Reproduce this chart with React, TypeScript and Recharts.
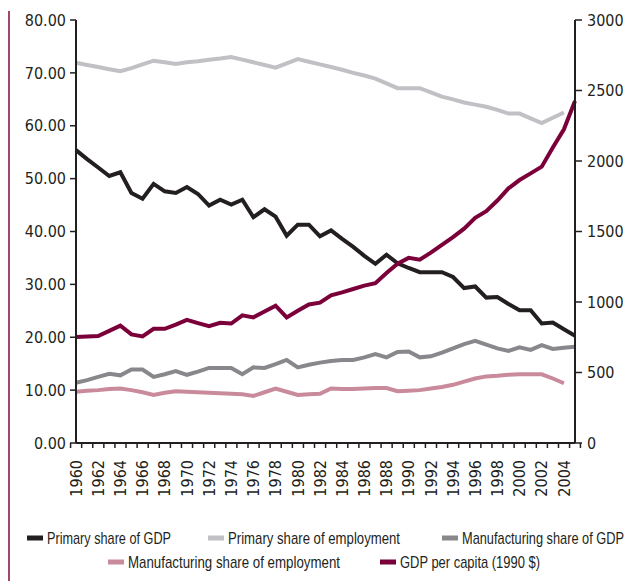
import { Line, LineChart, XAxis, YAxis } from 'recharts';

// Years on the category axis (1960 - 2005)
const years = [
    1960, 1961, 1962, 1963, 1964, 1965, 1966, 1967, 1968, 1969,
    1970, 1971, 1972, 1973, 1974, 1975, 1976, 1977, 1978, 1979,
    1980, 1981, 1982, 1983, 1984, 1985, 1986, 1987, 1988, 1989,
    1990, 1991, 1992, 1993, 1994, 1995, 1996, 1997, 1998, 1999,
    2000, 2001, 2002, 2003, 2004, 2005,
];

// Left axis series (%)
const primaryShareGdp = [
    55.4, 53.7, 52.1, 50.5, 51.2, 47.3, 46.2, 49.0, 47.6, 47.3,
    48.4, 47.1, 44.9, 46.0, 45.1, 46.0, 42.7, 44.2, 42.8, 39.2,
    41.3, 41.3, 39.1, 40.2, 38.6, 37.1, 35.4, 33.9, 35.6, 34.0,
    33.1, 32.3, 32.3, 32.3, 31.4, 29.3, 29.6, 27.5, 27.6, 26.3,
    25.1, 25.1, 22.6, 22.8, 21.5, 20.3,
];

const primaryShareEmployment = [
    71.9, 71.5, 71.1, 70.7, 70.3, 70.9, 71.6, 72.3, 72.0, 71.7,
    72.0, 72.2, 72.5, 72.7, 73.0, 72.5, 72.0, 71.5, 71.0, 71.8,
    72.6, 72.1, 71.6, 71.1, 70.6, 70.0, 69.5, 68.9, 68.0, 67.1,
    67.1, 67.1, 66.3, 65.5, 65.0, 64.4, 64.0, 63.6, 63.0, 62.3,
    62.3, 61.4, 60.5, 61.5, 62.5, null,
];

const manufacturingShareGdp = [
    11.4, 11.9, 12.5, 13.1, 12.8, 13.9, 13.9, 12.5, 13.0, 13.6,
    12.9, 13.5, 14.2, 14.2, 14.2, 13.0, 14.3, 14.2, 14.9, 15.7,
    14.3, 14.8, 15.2, 15.5, 15.7, 15.7, 16.2, 16.8, 16.2, 17.2,
    17.3, 16.2, 16.4, 17.1, 17.9, 18.7, 19.3, 18.6, 17.9, 17.4,
    18.1, 17.6, 18.5, 17.8, 18.0, 18.2,
];

const manufacturingShareEmployment = [
    9.7, 9.9, 10.0, 10.2, 10.3, 10.0, 9.6, 9.1, 9.5, 9.8,
    9.7, 9.6, 9.5, 9.4, 9.3, 9.2, 8.9, 9.6, 10.3, 9.7,
    9.1, 9.2, 9.3, 10.3, 10.2, 10.2, 10.3, 10.4, 10.4, 9.8,
    9.9, 10.0, 10.3, 10.6, 11.0, 11.6, 12.2, 12.6, 12.7, 12.9,
    13.0, 13.0, 13.0, 12.2, 11.3, null,
];

// Right axis series (1990 $)
const gdpPerCapita = [
    752, 755, 758, 795, 832, 770, 756, 810, 810, 840,
    873, 850, 828, 852, 847, 905, 891, 932, 974, 891,
    938, 982, 995, 1048, 1068, 1092, 1116, 1133, 1205, 1272,
    1313, 1300, 1350, 1405, 1460, 1520, 1597, 1644, 1720, 1806,
    1865, 1912, 1960, 2095, 2225, 2426,
];

const leftTicks = [0, 10, 20, 30, 40, 50, 60, 70, 80];
const rightTicks = [0, 500, 1000, 1500, 2000, 2500, 3000];

const series = [
    { key: 'primaryGdp', name: 'Primary share of GDP', color: '#231f20', axis: 'left' },
    { key: 'primaryEmp', name: 'Primary share of employment', color: '#c1c1c5', axis: 'left' },
    { key: 'manuGdp', name: 'Manufacturing share of GDP', color: '#88888c', axis: 'left' },
    { key: 'manuEmp', name: 'Manufacturing share of employment', color: '#c98b9c', axis: 'left' },
    { key: 'gdpPc', name: 'GDP per capita (1990 $)', color: '#7b0039', axis: 'right' },
];

const data = years.map((year, i) => ({
    year,
    primaryGdp: primaryShareGdp[i],
    primaryEmp: primaryShareEmployment[i],
    manuGdp: manufacturingShareGdp[i],
    manuEmp: manufacturingShareEmployment[i],
    gdpPc: gdpPerCapita[i],
}));

const WIDTH = 634;
const CHART_HEIGHT = 515;
const LEFT_W = 76;
const RIGHT_W = 59;
const X_H = 72;
const BAND = (WIDTH - LEFT_W - RIGHT_W) / years.length;

const INK = '#231f20';
const NUM_FONT = '"DejaVu Sans Condensed", "DejaVu Sans", sans-serif';
const LEGEND_FONT = '"Liberation Sans", Arial, sans-serif';

const XTick = (props: any) => {
    const { x, y, payload } = props;
    const year = payload.value as number;
    const isLast = year === years[years.length - 1];
    return (
        <g>
            <line x1={x - BAND / 2} x2={x - BAND / 2} y1={y} y2={y + 5} stroke={INK} strokeWidth={1.5} />
            {isLast && (
                <line x1={x + BAND / 2} x2={x + BAND / 2} y1={y} y2={y + 5} stroke={INK} strokeWidth={1.5} />
            )}
            {year % 2 === 0 && (
                <text
                    x={x}
                    y={y + 17}
                    dy="0.36em"
                    textAnchor="end"
                    transform={`rotate(-90, ${x}, ${y + 17})`}
                    fill={INK}
                    fontSize={16}
                    fontFamily={NUM_FONT}
                >
                    {year}
                </text>
            )}
        </g>
    );
};

// legend slots: swatch left edge, row centre line, text width (condensed look)
const legendSlots = [
    { x: 27, y: 538, w: 124 },
    { x: 208, y: 538, w: 172 },
    { x: 442, y: 538, w: 162 },
    { x: 108, y: 562, w: 212 },
    { x: 380, y: 562, w: 140 },
];

function ChartLegend() {
    return (
        <svg width={WIDTH} height={66} style={{ position: 'absolute', left: 0, top: 515 }}>
            {series.map((s, i) => {
                const slot = legendSlots[i];
                const cy = slot.y - 515;
                return (
                    <g key={s.key}>
                        <rect x={slot.x} y={cy - 2.5} width={16} height={5} fill={s.color} />
                        <text
                            x={slot.x + 20}
                            y={cy}
                            dy="0.36em"
                            textLength={slot.w}
                            lengthAdjust="spacingAndGlyphs"
                            fontFamily={LEGEND_FONT}
                            fontSize={17}
                            fill={INK}
                        >
                            {s.name}
                        </text>
                    </g>
                );
            })}
        </svg>
    );
}

export default function App() {
    return (
        <div style={{ position: 'absolute', left: 0, top: 0, width: WIDTH, height: 581, background: '#fff' }}>
            {/* decorative rule down the left edge */}
            <div style={{ position: 'absolute', left: 8, top: 11, width: 2, height: 570, background: '#a3466f' }} />
            <LineChart
                width={WIDTH}
                height={CHART_HEIGHT}
                data={data}
                margin={{ top: 20, right: 0, bottom: 0, left: 0 }}
            >
                <XAxis
                    dataKey="year"
                    interval={0}
                    height={X_H}
                    tickSize={0}
                    tickMargin={0}
                    tickLine={false}
                    axisLine={{ stroke: INK, strokeWidth: 2 }}
                    tick={(p: any) => <XTick {...p} />}
                />
                <YAxis
                    yAxisId="left"
                    width={LEFT_W}
                    domain={[0, 80]}
                    ticks={leftTicks}
                    tickFormatter={(v: number) => v.toFixed(2)}
                    tickSize={6}
                    tickMargin={4}
                    axisLine={{ stroke: INK, strokeWidth: 2 }}
                    tickLine={{ stroke: INK, strokeWidth: 1.5 }}
                    tick={{ fill: INK, fontSize: 16, fontFamily: NUM_FONT }}
                />
                <YAxis
                    yAxisId="right"
                    orientation="right"
                    width={RIGHT_W}
                    domain={[0, 3000]}
                    ticks={rightTicks}
                    tickSize={7}
                    tickMargin={5}
                    axisLine={{ stroke: INK, strokeWidth: 2 }}
                    tickLine={{ stroke: INK, strokeWidth: 1.5 }}
                    tick={{ fill: INK, fontSize: 16, fontFamily: NUM_FONT }}
                />
                {series.map((s) => (
                    <Line
                        key={s.key}
                        yAxisId={s.axis}
                        type="linear"
                        dataKey={s.key}
                        name={s.name}
                        stroke={s.color}
                        strokeWidth={4}
                        dot={false}
                        activeDot={false}
                        isAnimationActive={false}
                    />
                ))}
            </LineChart>
            <ChartLegend />
        </div>
    );
}
